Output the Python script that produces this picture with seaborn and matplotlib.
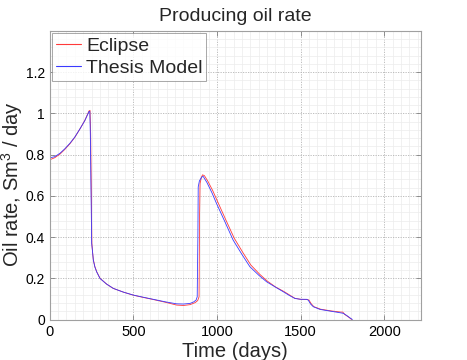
import numpy as np
import pandas as pd
import matplotlib
matplotlib.use("Agg")
import matplotlib.pyplot as plt
from matplotlib.ticker import MultipleLocator, FixedLocator, FuncFormatter
import seaborn as sns

# ---- data ----
series_names = ["Eclipse", "Thesis Model"]

eclipse_t = [0, 30, 62, 90, 121, 150, 181, 210, 235, 241, 245, 252, 256, 261, 270, 281,
             301, 340, 380, 440, 500, 560, 619, 690, 759, 800, 839, 870, 885, 893, 896,
             899, 907, 914, 925, 945, 975, 1004, 1055, 1103, 1155, 1203, 1255, 1300,
             1350, 1400, 1466, 1500, 1540, 1550, 1565, 1580, 1620, 1680, 1740, 1752,
             1765, 1790, 1805]
eclipse_rate = [0.775, 0.785, 0.803, 0.825, 0.853, 0.884, 0.925, 0.966, 1.012, 1.015, 0.9,
                0.37, 0.33, 0.29, 0.257, 0.232, 0.2, 0.172, 0.151, 0.133, 0.118, 0.107,
                0.097, 0.084, 0.070, 0.068, 0.072, 0.082, 0.092, 0.11, 0.5, 0.66, 0.69,
                0.702, 0.698, 0.672, 0.625, 0.572, 0.48, 0.395, 0.325, 0.264, 0.22, 0.187,
                0.158, 0.136, 0.103, 0.098, 0.097, 0.094, 0.075, 0.062, 0.05, 0.042, 0.036,
                0.036, 0.024, 0.01, 0.0]

thesis_t = [0, 0.5, 3, 30, 62, 90, 121, 150, 181, 210, 235, 240, 243, 251, 256, 261, 270,
            281, 301, 340, 380, 440, 500, 560, 619, 690, 759, 800, 839, 860, 875, 882, 886,
            888, 895, 904, 912, 918, 940, 970, 998, 1050, 1097, 1150, 1197, 1250, 1297,
            1350, 1396, 1430, 1466, 1500, 1536, 1546, 1560, 1576, 1616, 1675, 1720, 1755,
            1775, 1795, 1810]
thesis_rate = [1.0, 0.95, 0.785, 0.79, 0.807, 0.828, 0.855, 0.885, 0.925, 0.965, 1.009,
               1.01, 0.9, 0.37, 0.33, 0.288, 0.255, 0.231, 0.199, 0.172, 0.151, 0.133,
               0.1185, 0.108, 0.098, 0.086, 0.076, 0.075, 0.078, 0.085, 0.094, 0.11, 0.4,
               0.643, 0.672, 0.685, 0.693, 0.694, 0.665, 0.615, 0.562, 0.47, 0.385, 0.315,
               0.256, 0.215, 0.183, 0.157, 0.135, 0.118, 0.102, 0.098, 0.098, 0.094, 0.075,
               0.062, 0.049, 0.041, 0.035, 0.030, 0.02, 0.008, 0.0]

x_ticks = [0, 500, 1000, 1500, 2000]
y_ticks = [0, 0.2, 0.4, 0.6, 0.8, 1.0, 1.2]
colors = {"Eclipse": "#ff3a3a", "Thesis Model": "#3a3aff"}

df = pd.concat([
    pd.DataFrame({"t": eclipse_t, "rate": eclipse_rate, "model": series_names[0]}),
    pd.DataFrame({"t": thesis_t, "rate": thesis_rate, "model": series_names[1]}),
], ignore_index=True)

sns.set_theme(style="white")
plt.rcParams["font.family"] = ["Liberation Sans", "DejaVu Sans"]
plt.rcParams["mathtext.fontset"] = "custom"
plt.rcParams["mathtext.rm"] = "Liberation Sans"

fig = plt.figure(figsize=(4.67, 3.6), dpi=100)
ax = fig.add_axes([0.1064, 0.1125, 0.7951, 0.8014])

sns.lineplot(data=df, x="t", y="rate", hue="model", hue_order=series_names,
             palette=colors, sort=False, estimator=None, linewidth=0.6, ax=ax)

ax.set_xlim(0, 2220)
ax.set_ylim(0, 1.4)
ax.xaxis.set_major_locator(FixedLocator(x_ticks))
ax.yaxis.set_major_locator(FixedLocator(y_ticks))
ax.xaxis.set_minor_locator(MultipleLocator(50))
ax.yaxis.set_minor_locator(MultipleLocator(0.04))
ax.yaxis.set_major_formatter(FuncFormatter(lambda v, p: "%g" % round(v, 2)))
ax.xaxis.set_major_formatter(FuncFormatter(lambda v, p: "%g" % v))

ax.grid(which="major", color="#b4b4b4", linestyle=(0, (1.5, 1.5)), linewidth=0.6)
ax.grid(which="minor", color="#ececec", linestyle="-", linewidth=0.5)
ax.set_axisbelow(True)

for s in ax.spines.values():
    s.set_color("#a0a0a0")
    s.set_linewidth(0.8)
ax.tick_params(which="major", direction="in", length=3.5, width=0.6, color="#808080",
               labelsize=10.5, pad=4, colors="#808080", labelcolor="black",
               top=True, right=True, bottom=True, left=True)
ax.tick_params(axis="y", which="major", labelsize=10, pad=3.5)
ax.tick_params(which="minor", length=0)

ax.set_title("Producing oil rate", fontsize=14, pad=7)
ax.set_xlabel("Time (days)", fontsize=14.5, labelpad=2)
ax.set_ylabel("Oil rate, Sm$^3$ / day", fontsize=14.5)
ax.yaxis.set_label_coords(-0.066, 0.47)

leg = ax.legend(loc="upper left", fontsize=14, frameon=True, fancybox=False,
                edgecolor="#808080", handlelength=1.3, handletextpad=0.25,
                borderpad=0.2, labelspacing=0.25, borderaxespad=0.12)
leg.get_frame().set_linewidth(0.6)
for line in leg.get_lines():
    line.set_linewidth(0.8)

fig.savefig("out.png", dpi=100)
